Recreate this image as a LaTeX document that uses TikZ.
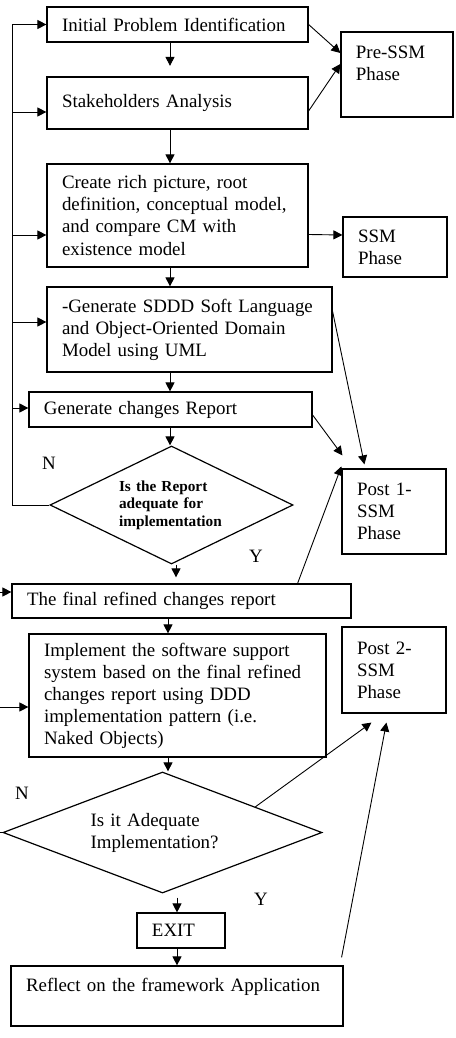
\documentclass[tikz,border=0pt]{standalone}
\usepackage{fontspec}
\setmainfont{Liberation Serif}
\usetikzlibrary{shapes.geometric, arrows.meta, calc}
\tikzset{
  box/.style={rectangle, draw=black, line width=0.8pt,
    inner xsep=10pt, inner ysep=0pt, align=left,
    font=\fontsize{12.6}{14.7}\selectfont},
  decision/.style={diamond, draw=black, line width=0.8pt,
    inner sep=0pt, align=left},
  arrow/.style={-{Triangle[length=6pt,width=6pt]}, line width=0.6pt, color=black},
  line/.style={line width=0.6pt, color=black},
  lbl/.style={font=\fontsize{12.6}{14.7}\selectfont, inner sep=0pt}
}

\begin{document}
\begin{tikzpicture}[x=0.6667pt, y=-0.6667pt]
  \useasboundingbox (0,0) rectangle (455,1038);
  \fill[white] (0,0) rectangle (455,1038);
  \clip (0,0) rectangle (455,1038);

  % Main column
  \node[box, text width=154pt, minimum height=23.3pt] (init) at (177.5,24.5) {Initial Problem Identification};
  \node[box, text width=154pt, minimum height=34.7pt] (stake) at (177.5,103) {Stakeholders Analysis};
  \node[box, text width=154pt, minimum height=68.7pt] (create) at (177.5,215.5) {Create rich picture, root\\definition, conceptual model,\\and compare CM with\\existence model};
  \node[box, text width=170pt, minimum height=56.7pt] (sddd) at (189.5,329.5) {-Generate SDDD Soft Language\\and Object-Oriented Domain\\Model using UML};
  \node[box, text width=168.7pt, minimum height=23.3pt] (gen) at (170.5,409.5) {Generate changes Report};
  \node[decision, aspect=2, text width=70pt, minimum width=162pt, minimum height=78.7pt,
    font=\fontsize{10.2}{11.7}\selectfont\bfseries] (dia1) at (171.5,505) {Is the Report\\adequate for\\implementation};
  \node[box, text width=206pt, minimum height=22.7pt] (final) at (181.5,601) {The final refined changes report};
  \node[box, text width=178pt, minimum height=82pt] (impl) at (177.5,695.5) {Implement the software support\\system based on the final refined\\changes report using DDD\\implementation pattern (i.e.\\Naked Objects)};
  \node[decision, aspect=2.6, text width=96pt, minimum width=212.7pt, minimum height=80.7pt,
    font=\fontsize{12.6}{14.7}\selectfont] (dia2) at (162.5,832.5) {Is it Adequate\\Implementation?};
  \node[box, text width=38.7pt, minimum height=23.3pt] (exit) at (181,930.5) {EXIT};
  \node[box, text width=201.3pt, minimum height=40pt] (reflect) at (177,996) {Reflect on the framework Application\\\mbox{}};

  % Phases
  \node[box, text width=54.7pt, minimum height=56.7pt] (pre) at (397,74.5) {Pre-SSM\\Phase\\\mbox{}};
  \node[box, text width=49.3pt, minimum height=40pt] (ssm) at (395,247) {SSM\\Phase};
  \node[box, text width=49.3pt, minimum height=56.7pt] (post1) at (394,511.5) {Post 1-\\SSM\\Phase};
  \node[box, text width=49.3pt, minimum height=57.3pt] (post2) at (394,670) {Post 2-\\SSM\\Phase};

  % Labels
  \node[lbl] (n1) at (49,463) {N};
  \node[lbl] (y1) at (256,556) {Y};
  \node[lbl] (n2) at (22,793) {N};
  \node[lbl] (y2) at (261,899) {Y};

  % Down arrows
  \coordinate (spine) at (170,0);
  \coordinate (spineb) at (176,0);
  \coordinate (spinec) at (168,0);
  \coordinate (spined) at (177,0);
  \draw[arrow, shorten >=7pt] (init.south -| spine) -- (stake.north -| spine);
  \foreach \a/\b in {stake/create, create/sddd, sddd/gen, gen/dia1}
    \draw[arrow] (\a.south -| spine) -- (\b.north -| spine);
  \draw[arrow, shorten >=4pt] (dia1.south -| spineb) -- (final.north -| spineb);
  \draw[arrow] (final.south -| spinec) -- (impl.north -| spinec);
  \draw[arrow] (impl.south -| spinec) -- (dia2.north -| spinec);
  \draw[arrow] ($(dia2.south -| spined)+(0,4)$) -- (exit.north -| spined);
  \draw[arrow] (exit.south -| spined) -- (reflect.north -| spined);

  % Loop back (N)
  \coordinate (loopa) at (12,0);
  \draw[arrow] (dia1.west) -- (dia1.west -| loopa) -- (init.west -| loopa) -- (init.west);
  \foreach \n/\dy in {stake/9, create/19.5, sddd/-7.5, gen/-1.5}
    \draw[arrow] ($(\n.west -| loopa)+(0,\dy)$) -- ($(\n.west)+(0,\dy)$);
  \coordinate (loopb) at (-3,0);
  \draw[arrow] (dia2.west) -- (dia2.west -| loopb) -- ($(final.west -| loopb)+(0,-9)$) -- ($(final.west)+(0,-9)$);
  \draw[arrow] ($(impl.west -| loopb)+(0,11.5)$) -- ($(impl.west)+(0,11.5)$);

  % Phase links
  \draw[arrow] (init.east) -- ($(pre.west)+(0,-21.5)$);
  \draw[arrow] ($(stake.east)+(0,8)$) -- ($(pre.west)+(0,-10.5)$);
  \draw[arrow] ($(create.east)+(0,19)$) -- ($(ssm.west)+(0,-12)$);
  \draw[arrow] ($(sddd.north east)+(0,25)$) -- ($(post1.north west)+(23,-4)$);
  \draw[arrow] ($(gen.east)+(0,5.5)$) -- ($(post1.north west)+(1,-13)$);
  \draw[arrow] ($(final.north east)+(-54,0)$) -- ($(post1.north west)+(0,-2)$);
  \draw[arrow] ($(dia2.north)!0.58!(dia2.east)$) -- ($(post2.south west)+(30,9)$);
  \draw[arrow] ($(reflect.north east)+(-2,-8)$) -- ($(post2.south west)+(45,9)$);
\end{tikzpicture}
\end{document}
